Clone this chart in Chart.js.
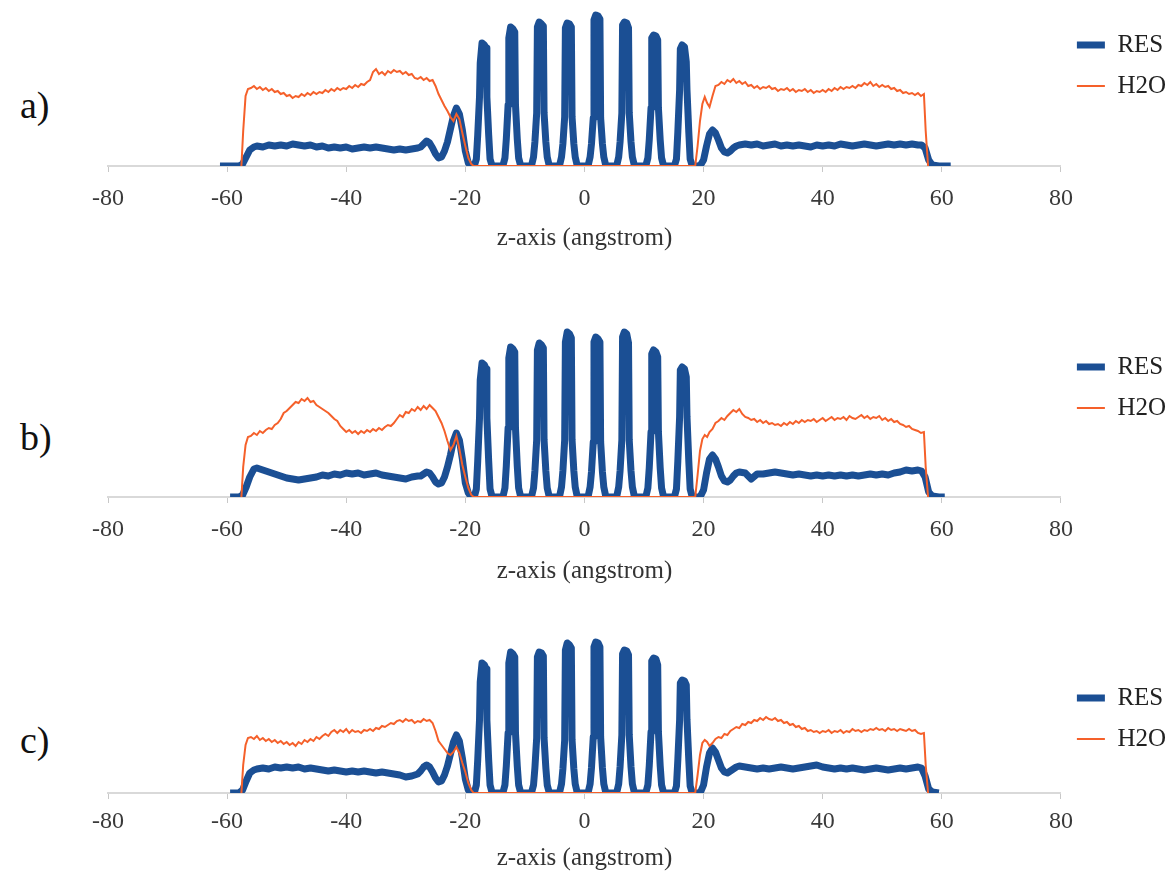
<!DOCTYPE html>
<html>
<head>
<meta charset="utf-8">
<title>RES / H2O density profiles</title>
<script src="https://cdn.jsdelivr.net/npm/chart.js@4.4.1/dist/chart.umd.min.js"></script>
<style>
  body { margin: 0; background: #fff; }
  #page { position: relative; width: 1176px; height: 880px; overflow: hidden; background: #fff; }
  .panel { position: absolute; left: 0; }
  .tag { position: absolute; left: 20px; font-family: 'Liberation Serif', 'Times New Roman', serif; font-size: 38px; line-height: 1; color: #111; }
</style>
</head>
<body>
<div id="page">
  <div class="tag" style="top:86px">a)</div>
  <div class="tag" style="top:418px">b)</div>
  <div class="tag" style="top:721px">c)</div>
  <canvas id="chart-a" class="panel" width="1176" height="270" style="top:0px"></canvas>
  <canvas id="chart-b" class="panel" width="1176" height="270" style="top:320px"></canvas>
  <canvas id="chart-c" class="panel" width="1176" height="250" style="top:630px"></canvas>
</div>
<script>
const FONT = "'Liberation Serif', 'Times New Roman', serif";
const COL_RES = '#1b4f94';
const COL_H2O = '#f5602a';

// z positions (angstrom) where the RES profile was sampled
const zRes = [
  -61.2, -59.5, -58, -57.4, -56.8, -56.2, -55.5,
  -55, -54, -53, -52, -51, -50, -49, -48, -47, -46, -45, -44, -43, -42,
  -41, -40, -39, -38, -37, -36, -35, -34, -33, -32, -31, -30, -29, -28,
  -27.5, -27, -26.5, -26, -25.5, -25, -24.5, -24, -23.5, -23, -22.5, -22,
  -21.5, -21, -20.5, -20, -19.5, -19,
  // membrane peaks
  -18.5, -18.15, -17.92, -17.62, -17.5, -17.2, -16.8, -16.5, -16.38, -16.08, -15.85, -15.5,
  -13.7, -13.35, -13.12, -12.82, -12.7, -12.4, -12.0, -11.7, -11.58, -11.28, -11.05, -10.7,
  -8.9, -8.55, -8.32, -8.02, -7.9, -7.6, -7.2, -6.9, -6.78, -6.48, -6.25, -5.9,
  -4.2, -3.85, -3.62, -3.32, -3.2, -2.9, -2.5, -2.2, -2.08, -1.78, -1.55, -1.2,
  0.6, 0.95, 1.18, 1.48, 1.6, 1.9, 2.3, 2.6, 2.72, 3.02, 3.25, 3.6,
  5.4, 5.75, 5.98, 6.28, 6.4, 6.7, 7.1, 7.4, 7.52, 7.82, 8.05, 8.4,
  10.3, 10.65, 10.88, 11.18, 11.3, 11.6, 12.0, 12.3, 12.42, 12.72, 12.95, 13.3,
  15.1, 15.45, 15.68, 15.98, 16.1, 16.4, 16.8, 17.1, 17.22, 17.52, 17.75, 18.1,
  18.4, 19.0, 19.5,
  20, 20.5, 21, 21.5, 22, 22.5, 23, 23.5, 24, 24.5, 25, 25.5, 26,
  27, 28, 29, 30, 31, 32, 33, 34, 35, 36, 37, 38, 39, 40, 41,
  42, 43, 44, 45, 46, 47, 48, 49, 50, 51, 52, 53, 54, 55, 56,
  56.6, 57.2, 57.8, 58.4, 59.5, 60.5, 61.5
];

// RES density, panel a
const resA = [
  0, 0, 0, 2, 9, 16, 19,
  20, 19, 21, 20, 21, 20, 22, 21, 20, 21, 19, 20, 18, 19,
  18, 19, 17, 18, 19, 18, 19, 18, 17, 16, 17, 16, 17, 18,
  19, 22, 25, 23, 18, 12, 8, 9, 15, 24, 37, 50,
  58, 52, 36, 15, 3, 0,
  0, 7, 31, 69, 103, 123, 121, 118, 69, 31, 7, 0,
  0, 8, 27, 61, 128, 139, 137, 134, 61, 27, 8, 0,
  0, 9, 24, 53, 139, 144, 142, 140, 53, 24, 9, 0,
  0, 9, 22, 49, 138, 143, 142, 139, 49, 22, 9, 0,
  0, 9, 22, 48, 146, 151, 150, 147, 48, 22, 9, 0,
  0, 9, 24, 53, 141, 144, 143, 138, 53, 24, 9, 0,
  0, 8, 26, 58, 128, 131, 130, 126, 58, 26, 8, 0,
  0, 7, 34, 76, 117, 121, 119, 104, 76, 34, 7, 0,
  0, 0, 1,
  6, 20, 32, 36, 33, 26, 18, 14, 13, 15, 18, 20, 21,
  22, 21, 22, 20, 21, 22, 20, 21, 20, 21, 20, 19, 21, 20, 21,
  20, 22, 21, 20, 21, 22, 21, 20, 21, 22, 21, 22, 21, 22, 21,
  21, 18, 6, 1, 0, 0, 0
];

// RES density, panel b
const resB = [
  null, 0, 0, 2, 10, 20, 28,
  29, 27, 25, 23, 21, 19, 18, 17, 18, 19, 20, 22, 21, 23,
  22, 24, 23, 24, 22, 23, 24, 22, 21, 20, 19, 18, 20, 21,
  21, 23, 25, 24, 20, 15, 13, 14, 20, 30, 42, 56,
  64, 57, 38, 14, 4, 0,
  0, 8, 36, 79, 117, 134, 132, 128, 79, 36, 8, 0,
  0, 9, 31, 69, 139, 150, 148, 145, 69, 31, 9, 0,
  0, 9, 26, 57, 147, 154, 152, 149, 57, 26, 9, 0,
  0, 10, 26, 57, 155, 165, 163, 159, 57, 26, 10, 0,
  0, 10, 25, 55, 155, 160, 158, 155, 55, 25, 10, 0,
  0, 10, 26, 57, 160, 165, 163, 154, 57, 26, 10, 0,
  0, 9, 29, 65, 143, 147, 145, 140, 65, 29, 9, 0,
  0, 8, 36, 80, 127, 130, 128, 120, 80, 36, 8, 0,
  0, 0, 1,
  7, 24, 38, 42, 38, 30, 21, 16, 15, 17, 21, 24, 25,
  24, 18, 23, 23, 24, 25, 24, 23, 22, 23, 22, 21, 22, 21, 22,
  21, 22, 21, 22, 21, 22, 23, 22, 23, 22, 24, 25, 27, 26, 27,
  26, 20, 5, 1, 0, 0, null
];

// RES density, panel c
const resC = [
  null, 0, 0, 3, 12, 20, 23,
  24, 25, 24, 26, 25, 26, 25, 26, 24, 25, 24, 23, 22, 23,
  22, 21, 22, 21, 22, 21, 20, 21, 20, 19, 18, 16, 17, 19,
  22, 26, 28, 26, 21, 15, 11, 12, 18, 27, 39, 51,
  58, 52, 35, 14, 3, 0,
  0, 8, 33, 73, 111, 130, 128, 124, 73, 33, 8, 0,
  0, 8, 27, 60, 130, 141, 139, 136, 60, 27, 8, 0,
  0, 8, 25, 55, 136, 141, 140, 137, 55, 25, 8, 0,
  0, 9, 24, 53, 143, 150, 148, 145, 53, 24, 9, 0,
  0, 9, 25, 56, 146, 151, 150, 146, 56, 25, 9, 0,
  0, 9, 26, 58, 139, 143, 142, 138, 58, 26, 9, 0,
  0, 8, 27, 61, 132, 135, 134, 128, 61, 27, 8, 0,
  0, 7, 33, 73, 110, 113, 112, 108, 73, 33, 7, 0,
  0, 0, 1,
  8, 26, 40, 45, 41, 33, 25, 21, 20, 22, 24, 26, 27,
  26, 25, 24, 25, 24, 25, 26, 25, 24, 25, 26, 27, 28, 26, 25,
  24, 25, 24, 25, 24, 23, 24, 25, 24, 23, 24, 25, 24, 25, 26,
  25, 17, 4, 1, 0, null, null
];

// z positions (angstrom) where the H2O profile was sampled
const zWater = [
  -57.6, -57.3, -56.9, -56.5,
  -56, -55.5, -55, -54.5, -54, -53.5, -53, -52.5, -52, -51.5,
  -51, -50.5, -50, -49.5, -49, -48.5, -48, -47.5, -47, -46.5,
  -46, -45.5, -45, -44.5, -44, -43.5, -43, -42.5, -42, -41.5,
  -41, -40.5, -40, -39.5, -39, -38.5, -38, -37.5, -37, -36.5,
  -36, -35.5, -35, -34.5, -34, -33.5, -33, -32.5, -32, -31.5,
  -31, -30.5, -30, -29.5, -29, -28.5, -28, -27.5, -27, -26.5,
  -26, -25.5, -25,
  -24.5, -24, -23.5, -23, -22.5, -22, -21.5, -21, -20.5, -20, -19.5, -19, -18.6,
  0,
  18.6, 19, 19.4, 19.8, 20.2, 20.6, 21, 21.5, 22,
  22.5, 23, 23.5, 24, 24.5, 25, 25.5, 26, 26.5, 27,
  27.5, 28, 28.5, 29, 29.5, 30, 30.5, 31, 31.5, 32,
  32.5, 33, 33.5, 34, 34.5, 35, 35.5, 36, 36.5, 37,
  37.5, 38, 38.5, 39, 39.5, 40, 40.5, 41, 41.5, 42,
  42.5, 43, 43.5, 44, 44.5, 45, 45.5, 46, 46.5, 47,
  47.5, 48, 48.5, 49, 49.5, 50, 50.5, 51, 51.5, 52,
  52.5, 53, 53.5, 54, 54.5, 55, 55.5, 56, 56.5, 57,
  57.3, 57.7
];

// H2O density, panel a
const waterA = [
  0, 35, 70, 77,
  78, 80, 77, 79, 76, 78, 75, 77, 74, 75,
  72, 73, 70, 71, 68, 70, 69, 72, 70, 73,
  71, 74, 72, 74, 73, 76, 74, 77, 75, 78,
  76, 78, 77, 80, 78, 81, 79, 82, 81, 84,
  86, 94, 97, 92, 94, 91, 95, 93, 96, 94,
  95, 92, 94, 91, 92, 88, 87, 89, 86, 88,
  85, 86, 80,
  72, 66, 60, 55, 49, 45, 52, 47, 33, 20, 8, 2, 0,
  0,
  0, 20, 45, 62, 69, 63, 59, 70, 80,
  81, 84, 82, 86, 84, 87, 83, 85, 82, 84,
  80, 81, 78, 80, 77, 79, 78, 80, 77, 78,
  75, 77, 76, 78, 75, 77, 74, 76, 75, 77,
  74, 76, 73, 75, 74, 76, 74, 77, 75, 78,
  76, 79, 77, 79, 78, 80, 78, 81, 80, 83,
  81, 84, 80, 82, 79, 81, 79, 80, 77, 78,
  75, 76, 73, 74, 72, 73, 71, 73, 70, 72,
  35, 0
];

// H2O density, panel b
const waterB = [
  0, 30, 52, 60,
  61, 64, 62, 66, 64, 67, 69, 68, 72, 74,
  78, 84, 86, 89, 92, 95, 94, 98, 96, 99,
  95, 96, 92, 90, 88, 86, 84, 81, 78, 76,
  71, 68, 65, 67, 64, 66, 63, 66, 64, 67,
  65, 68, 66, 69, 67, 70, 72, 71, 74, 78,
  82, 80, 85, 84, 88, 86, 90, 87, 91, 88,
  92, 89, 86,
  80, 74, 66, 56, 47, 52, 61, 48, 32, 20, 9, 2, 0,
  0,
  0, 22, 46, 58, 62, 60, 65, 68, 74,
  76, 79, 77, 81, 84, 87, 85, 88, 83, 80,
  79, 77, 78, 75, 77, 74, 76, 73, 74, 72,
  73, 71, 74, 72, 75, 73, 76, 74, 77, 75,
  77, 76, 78, 75, 77, 79, 76, 78, 80, 77,
  79, 78, 80, 77, 81, 79, 78, 80, 82, 79,
  81, 78, 80, 79, 81, 77, 79, 76, 78, 75,
  76, 73, 72, 70, 71, 68, 67, 66, 64, 65,
  30, 0
];

// H2O density, panel c
const waterC = [
  0, 28, 48, 55,
  56, 54, 57, 53, 55, 52, 54, 51, 53, 50,
  52, 49, 51, 48, 50, 47, 51, 49, 53, 51,
  54, 52, 56, 54, 57, 59, 57, 61, 63, 60,
  63, 61, 64, 60, 63, 61, 62, 60, 63, 62,
  64, 62, 65, 64, 67, 66, 68, 70, 69, 72,
  73, 71, 74, 72, 73, 70, 72, 71, 74, 72,
  73, 70, 62,
  52, 48, 44, 40, 38, 41, 46, 40, 30, 21, 10, 3, 0,
  0,
  0, 18, 38, 50, 53, 51, 47, 50, 54,
  56, 55, 59, 58, 62, 64, 66, 65, 69, 68,
  71, 70, 73, 72, 75, 73, 76, 74, 73, 75,
  72, 73, 70, 71, 68, 69, 66, 67, 64, 65,
  62, 63, 61, 62, 60, 62, 61, 63, 60, 62,
  61, 63, 60, 62, 61, 64, 62, 63, 61, 63,
  62, 64, 63, 65, 63, 64, 62, 65, 63, 64,
  62, 64, 63, 62, 64, 62, 63, 60, 59, 60,
  28, 0
];

// Layout of the three stacked panels (canvas pixels)
const panels = [
  { id: 'chart-a', res: resA, water: waterA, yMax: 160, padTop: 6, axisHeight: 104, tickPad: 12, titlePad: 17, legendGap: 9.3 },
  { id: 'chart-b', res: resB, water: waterB, yMax: 170, padTop: 7, axisHeight: 93, tickPad: 12, titlePad: 4, legendGap: 10.3 },
  { id: 'chart-c', res: resC, water: waterC, yMax: 160, padTop: 3, axisHeight: 87, tickPad: 8, titlePad: 7, legendGap: 35.3 }
];

// Pair z positions with density values
function toPoints(zs, values) {
  if (zs.length !== values.length) {
    console.warn('length mismatch', zs.length, values.length);
  }
  return zs.map((z, i) => ({ x: z, y: values[i] }));
}

function makePanel(cfg) {
  const ctx = document.getElementById(cfg.id).getContext('2d');

  return new Chart(ctx, {
    type: 'line',
    data: {
      datasets: [{
        label: 'RES',
        data: toPoints(zRes, cfg.res),
        borderColor: COL_RES,
        backgroundColor: COL_RES,
        borderWidth: 7,
        borderJoinStyle: 'round',
        pointRadius: 0,
        pointStyle: 'line',
        tension: 0,
        order: 1
      }, {
        label: 'H2O',
        data: toPoints(zWater, cfg.water),
        borderColor: COL_H2O,
        backgroundColor: COL_H2O,
        borderWidth: 2,
        pointRadius: 0,
        pointStyle: 'line',
        tension: 0,
        order: 0
      }]
    },
    options: {
      responsive: false,
      animation: false,
      events: [],
      layout: {
        padding: { left: 108, right: 0, top: cfg.padTop, bottom: 0 }
      },
      scales: {
        x: {
          type: 'linear',
          min: -80,
          max: 80,
          ticks: {
            stepSize: 20,
            color: '#3a3a3a',
            padding: cfg.tickPad,
            font: { family: FONT, size: 24 }
          },
          grid: {
            drawOnChartArea: false,
            tickLength: 6,
            tickColor: '#c8c8c8'
          },
          border: { color: '#d9d9d9', width: 2 },
          title: {
            display: true,
            text: 'z-axis (angstrom)',
            color: '#333',
            font: { family: FONT, size: 25 },
            padding: { top: 0, bottom: cfg.titlePad }
          },
          afterFit: function(scale) {
            scale.height = cfg.axisHeight;
          }
        },
        y: {
          display: false,
          min: 0,
          max: cfg.yMax
        }
      },
      plugins: {
        legend: {
          position: 'right',
          align: 'start',
          title: {
            display: true,
            text: '',
            font: { size: 1 },
            padding: { top: cfg.legendGap, bottom: 0 }
          },
          labels: {
            usePointStyle: true,
            pointStyleWidth: 28,
            padding: 16,
            color: '#222',
            font: { family: FONT, size: 25 },
            sort: (a, b) => a.datasetIndex - b.datasetIndex
          }
        },
        tooltip: { enabled: false }
      }
    }
  });
}

panels.forEach(makePanel);
</script>
</body>
</html>
